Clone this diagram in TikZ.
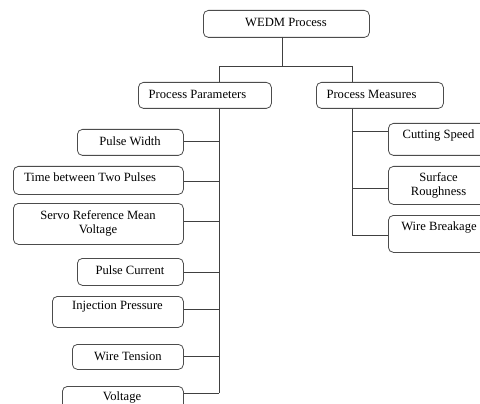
\documentclass[tikz,border=0pt]{standalone}
\usepackage{fontspec}
\setmainfont{Liberation Serif}
\begin{document}
\begin{tikzpicture}[x=1pt,y=-1pt,
  box/.style={draw=black!70,line width=0.8pt,rounded corners=5pt,inner sep=0pt,anchor=north west},
  txt/.style={inner sep=0pt,text=black,font=\fontsize{12.6}{13.5}\selectfont,align=center},
  conn/.style={draw=black!75,line width=0.8pt}]
\clip (0,0) rectangle (480,404);
% boxes
\node[box,minimum width=166pt,minimum height=27pt] (wedm) at (203,10) {};
\node[box,minimum width=133pt,minimum height=26pt] (pp) at (138,82) {};
\node[box,minimum width=127pt,minimum height=26pt] (pm) at (316,82) {};
\node[box,minimum width=106pt,minimum height=26pt] (pw) at (77,129) {};
\node[box,minimum width=170pt,minimum height=28pt] (tb) at (13,166) {};
\node[box,minimum width=170pt,minimum height=41pt] (sr) at (13,203) {};
\node[box,minimum width=106pt,minimum height=27pt] (pc) at (77,258) {};
\node[box,minimum width=131pt,minimum height=31pt] (ip) at (52,296) {};
\node[box,minimum width=111pt,minimum height=25pt] (wt) at (72,344) {};
\node[box,minimum width=121pt,minimum height=26pt] (vo) at (62,386) {};
\node[box,minimum width=100pt,minimum height=32pt] (cs) at (388,123) {};
\node[box,minimum width=100pt,minimum height=38pt] (su) at (388,166) {};
\node[box,minimum width=100pt,minimum height=37pt] (wb) at (388,215) {};
% texts
\node[txt] (twedm) at (286,22) {WEDM Process};
\node[txt] (tpp) at (197.5,94) {Process Parameters};
\node[txt] (tpm) at (371.5,94) {Process Measures};
\node[txt] (tpw) at (130,141) {Pulse Width};
\node[txt] (ttb) at (90,177) {Time between Two Pulses};
\node[txt] (tsr) at (98,223.5) {Servo Reference Mean\\Voltage};
\node[txt] (tpc) at (130,270) {Pulse Current};
\node[txt] (tip) at (117.5,307) {Injection Pressure};
\node[txt] (twt) at (128,356) {Wire Tension};
\node[txt] (tvo) at (122,397) {Voltage};
\node[txt] (tcs) at (438.5,135) {Cutting Speed};
\node[txt] (tsu) at (438.5,185.5) {Surface\\Roughness};
\node[txt] (twb) at (439,227) {Wire Breakage};
% junction coordinates
\coordinate (top) at (282,37);
\coordinate (sp) at (219,66);
\coordinate (sm) at (352,66);
\coordinate (lpw) at (219,141);
\coordinate (ltb) at (219,181);
\coordinate (lsr) at (219,221);
\coordinate (lpc) at (219,272);
\coordinate (lip) at (219,309);
\coordinate (lwt) at (219,356);
\coordinate (lvo) at (219,393);
\coordinate (rcs) at (352,131);
\coordinate (rsu) at (352,188);
\coordinate (rwb) at (352,235);
% connectors
\draw[conn] (top) -- (top |- sp);
\draw[conn] (sp) -- (sm);
\draw[conn] (sp) -- (sp |- pp.north);
\draw[conn] (sm) -- (sm |- pm.north);
\draw[conn] (sp |- pp.south) -- (lvo);
\draw[conn] (sm |- pm.south) -- (rwb);
\draw[conn] (lpw) -- (lpw -| pw.east);
\draw[conn] (ltb) -- (ltb -| tb.east);
\draw[conn] (lsr) -- (lsr -| sr.east);
\draw[conn] (lpc) -- (lpc -| pc.east);
\draw[conn] (lip) -- (lip -| ip.east);
\draw[conn] (lwt) -- (lwt -| wt.east);
\draw[conn] (lvo) -- (lvo -| vo.east);
\draw[conn] (rcs) -- (rcs -| cs.west);
\draw[conn] (rsu) -- (rsu -| su.west);
\draw[conn] (rwb) -- (rwb -| wb.west);
\end{tikzpicture}
\end{document}
